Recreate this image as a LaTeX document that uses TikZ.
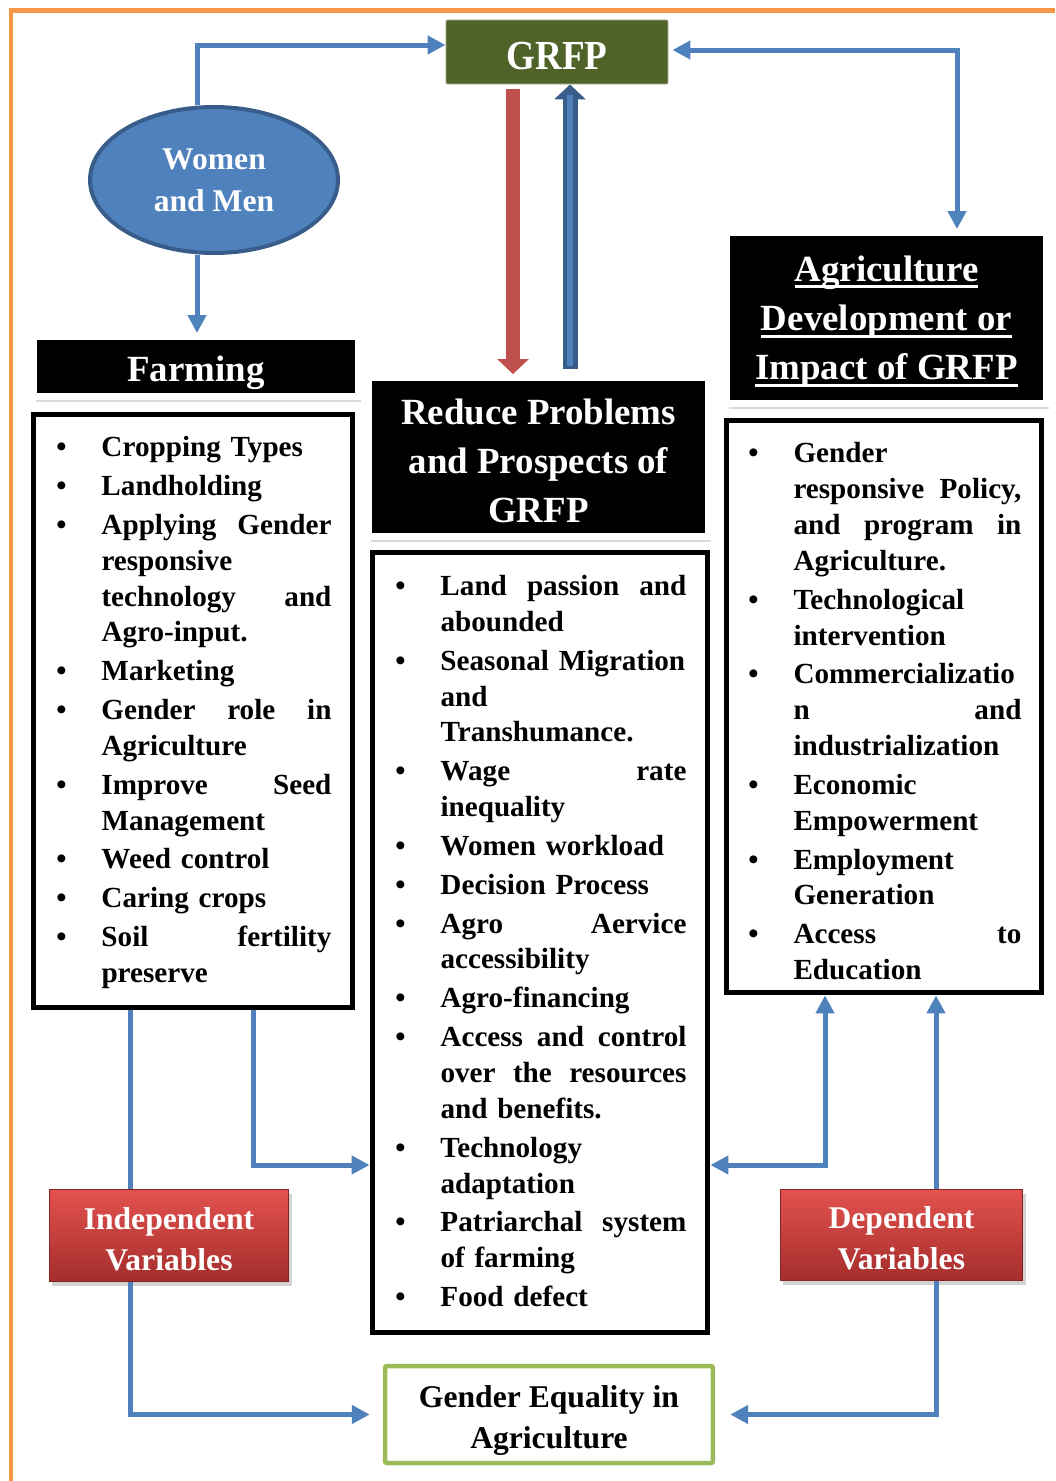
\documentclass[tikz,border=0pt]{standalone}
\usepackage{fontspec}
\setmainfont{Liberation Serif}
\usepackage{tikz}
\usepackage{xcolor}
\usetikzlibrary{arrows.meta,shapes.geometric,shadows}

\definecolor{frameorange}{HTML}{F79646}
\definecolor{grfpgreen}{HTML}{4F6228}
\definecolor{linkblue}{HTML}{4F81BD}
\definecolor{darkblue}{HTML}{385D8A}
\definecolor{arrowred}{HTML}{C0504D}
\definecolor{vartop}{HTML}{E3524F}
\definecolor{varbot}{HTML}{A52E2C}
\definecolor{eqgreen}{HTML}{9BBB59}

\newcommand{\bpt}{\par\noindent\llap{\textbullet\hspace{0.7cm}}}
\newcommand{\hdul}[1]{\setbox0\hbox{#1}\rlap{\rule[-0.14cm]{\wd0}{0.06cm}}\box0}
\newcommand{\lstinit}{\leftskip=0.94cm\parindent=0pt\parskip=0.06cm\hyphenpenalty=10000}

\tikzset{
	link/.style={draw=linkblue, line width=0.1cm},
	linkarr/.style={link, -{Triangle[width=0.36cm,length=0.36cm]}},
	linkboth/.style={link, {Triangle[width=0.36cm,length=0.36cm]}-{Triangle[width=0.36cm,length=0.36cm]}},
	grfpbox/.style={fill=grfpgreen, draw=grfpgreen!70!white, line width=0.02cm, rounded corners=0.04cm, text=white, font=\fontsize{23.5}{26}\selectfont\bfseries, minimum width=4.44cm, minimum height=1.28cm, text height=0.7cm, text depth=0cm},
	headbox/.style={fill=black, draw=white, line width=0.14cm, text=white, align=center, font=\fontsize{21}{28}\selectfont\bfseries, drop shadow={opacity=0.3, shadow xshift=0.05cm, shadow yshift=-0.12cm}},
	lstbox/.style={draw=black, line width=0.1cm, inner ysep=0.1cm, font=\fontsize{16.6}{20.4}\selectfont\bfseries},
	varbox/.style={top color=vartop, bottom color=varbot, draw=varbot!80!black, line width=0.02cm, text=white, align=center, font=\fontsize{18}{23.2}\selectfont\bfseries, minimum width=4.8cm, minimum height=1.84cm, drop shadow={opacity=0.35, shadow xshift=0.06cm, shadow yshift=-0.1cm}},
	eqbox/.style={draw=eqgreen, line width=0.09cm, rounded corners=0.04cm, align=center, font=\fontsize{18}{23.8}\selectfont\bfseries, minimum width=6.56cm, minimum height=1.94cm}
}

\begin{document}
\begin{tikzpicture}[x=0.02cm, y=-0.02cm]
	\useasboundingbox (0,0) rectangle (1055,1481);
	\draw[frameorange, line width=0.1cm] (11,1481) -- (11,10) -- (1055,10);

	\node[grfpbox] (grfp) at (557,52) {\scalebox{0.9}[1]{GRFP}};
	\node[ellipse, fill=linkblue, draw=darkblue, line width=0.08cm, text=white, align=center, font=\fontsize{18}{23.8}\selectfont\bfseries, minimum width=4.96cm, minimum height=2.92cm, inner sep=0pt] (wm) at (214,180) {Women\\and Men};

	\node[headbox, minimum width=6.5cm, minimum height=1.2cm, text height=0.58cm, text depth=0cm] (farmhead) at (196,366.5) {Farming};
	\node[headbox, minimum width=6.8cm, minimum height=3.18cm] (reducehead) at (538.5,457) {\rule{0pt}{0.67cm}Reduce Problems\\and Prospects of\\GRFP};
	\node[headbox, minimum width=6.4cm, minimum height=3.42cm] (agrhead) at (886.5,318) {\rule{0pt}{0.66cm}\hdul{Agriculture}\\\hdul{Development or}\\\hdul{Impact of GRFP}};

	\node[lstbox, text width=5.54cm, minimum width=6.4cm, minimum height=11.88cm] (farmlist) at (193,711) {\vspace*{-0.31cm}\lstinit
		\bpt Cropping Types
		\bpt Landholding
		\bpt Applying\hfill Gender\\ responsive\\ technology\hfill and\\ Agro-input.
		\bpt Marketing
		\bpt Gender\hfill role\hfill in\\ Agriculture
		\bpt Improve\hfill Seed\\ Management
		\bpt Weed control
		\bpt Caring crops
		\bpt Soil\hfill fertility\\ preserve\par};
	\node[lstbox, text width=5.86cm, minimum width=6.72cm, minimum height=15.62cm] (midlist) at (540,942.5) {\vspace*{-0.43cm}\lstinit
		\bpt Land\hfill passion\hfill and\\ abounded
		\bpt Seasonal Migration\\ and\\ Transhumance.
		\bpt Wage\hfill rate\\ inequality
		\bpt Women workload
		\bpt Decision Process
		\bpt Agro\hfill Aervice\\ accessibility
		\bpt Agro-financing
		\bpt Access\hfill and\hfill control\\ over\hfill the\hfill resources\\ and benefits.
		\bpt Technology\\ adaptation
		\bpt Patriarchal\hfill system\\ of farming
		\bpt Food defect\par};
	\node[lstbox, text width=5.5cm, minimum width=6.32cm, minimum height=11.46cm] (agrlist) at (884,706.5) {\vspace*{-0.18cm}\lstinit
		\bpt Gender\\ responsive\hfill Policy,\\ and\hfill program\hfill in\\ Agriculture.
		\bpt Technological\\ intervention
		\bpt Commercializatio\\ n\hfill and\\ industrialization
		\bpt Economic\\ Empowerment
		\bpt Employment\\ Generation
		\bpt Access\hfill to\\ Education\par};

	\node[varbox] (indep) at (169,1235) {\rule{0pt}{0.6cm}Independent\\Variables};
	\node[varbox, minimum width=4.86cm, minimum height=1.82cm] (dep) at (901.5,1234.5) {\rule{0pt}{0.6cm}Dependent\\Variables};
	\node[eqbox] (gendereq) at (549,1414.5) {\rule{0pt}{0.68cm}Gender Equality in\\Agriculture};

	\draw[linkarr] (wm.north -| 197,0) |- ([yshift=0.14cm]grfp.west);
	\draw[linkboth, shorten <=0.08cm] ([yshift=0.04cm]grfp.east) -| (agrhead.north -| 957,0);
	\draw[linkarr] (wm.south -| 197,0) -- (farmhead.north -| 197,0);

	\draw[arrowred, line width=0.28cm, shorten <=0.1cm, -{Triangle[width=0.62cm,length=0.3cm]}] (grfp.south -| 513,0) -- (reducehead.north -| 513,0);
	\draw[darkblue, line width=0.3cm, shorten <=0.1cm, -{Triangle[width=0.62cm,length=0.3cm]}] (reducehead.north -| 570,0) -- (grfp.south -| 570,0);
	\draw[linkblue, line width=0.12cm, shorten <=0.16cm, shorten >=0.22cm] (reducehead.north -| 570,0) -- (grfp.south -| 570,0);

	\draw[link] (farmlist.south -| 130,0) -- (indep.north -| 130,0);
	\draw[linkarr, shorten >=0.26cm] (indep.south -| 130,0) |- (gendereq.west);
	\draw[linkarr] (farmlist.south -| 253,0) |- (midlist.west |- 0,1165);
	\draw[linkboth] (midlist.east |- 0,1165) -| (agrlist.south -| 825,0);
	\draw[linkarr] (dep.north -| 936,0) -- (agrlist.south -| 936,0);
	\draw[linkarr, shorten >=0.3cm] (dep.south -| 936,0) |- (gendereq.east);
\end{tikzpicture}
\end{document}
